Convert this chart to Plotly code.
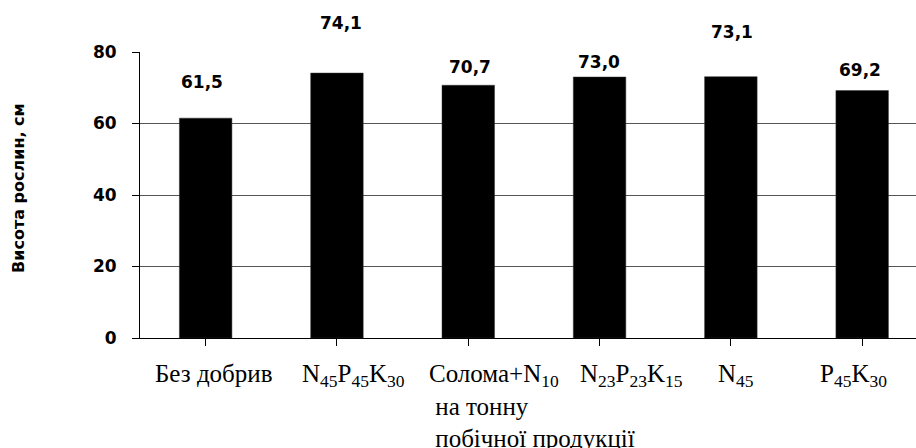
import plotly.graph_objects as go

# ---- data ----
categories = ["Без добрив", "N45P45K30", "Солома+N10 на тонну побічної продукції",
              "N23P23K15", "N45", "P45K30"]
category_labels = [
    "Без добрив",
    "N<sub>45</sub>P<sub>45</sub>K<sub>30</sub>",
    "Солома+N<sub>10</sub><br>\u00a0на тонну<br>\u00a0побічної продукції",
    "N<sub>23</sub>P<sub>23</sub>K<sub>15</sub>",
    "N<sub>45</sub>",
    "P<sub>45</sub>K<sub>30</sub>",
]
heights = [61.5, 74.1, 70.7, 73.0, 73.1, 69.2]
value_text = ["61,5", "74,1", "70,7", "73,0", "73,1", "69,2"]
y_ticks = [0, 20, 40, 60, 80]
y_title = "Висота рослин, см"

# ---- style (label offsets in px) ----
val_dx = [-4, 4.5, 1.5, -1, 1, -2]
val_dy = [36, 50, 18, 15, 45, 21]
lab_dx = [8, 17, -41, 32, 5, -9]
lab_anchor = ["center", "center", "left", "center", "center", "center"]

x_idx = list(range(len(categories)))

fig = go.Figure()
fig.add_trace(go.Bar(
    x=x_idx, y=heights, width=0.4,
    marker=dict(color="black", line=dict(color="#333", width=0.5)),
    hoverinfo="skip",
))

ann = []
for i, (v, t) in enumerate(zip(heights, value_text)):
    ann.append(dict(x=i, y=v, xref="x", yref="y", text=t, showarrow=False,
                    xanchor="center", yanchor="middle",
                    xshift=val_dx[i], yshift=val_dy[i],
                    font=dict(family="DejaVu Sans", size=17, color="black", weight="bold")))
for i, lab in enumerate(category_labels):
    ann.append(dict(x=i, y=0, xref="x", yref="paper", text=lab, showarrow=False,
                    xanchor=lab_anchor[i], yanchor="top", align="left",
                    xshift=lab_dx[i], yshift=-20,
                    font=dict(family="Liberation Serif", size=25, color="black")))
ann.append(dict(x=0, y=0.5, xref="paper", yref="paper", text=y_title, showarrow=False,
                textangle=-90, xanchor="center", yanchor="middle", xshift=-122, yshift=7,
                font=dict(family="DejaVu Sans", size=16, color="black", weight="bold")))

fig.update_layout(
    width=916, height=448,
    margin=dict(l=140, r=0, t=52, b=110),
    paper_bgcolor="white", plot_bgcolor="white",
    showlegend=False,
    annotations=ann,
    xaxis=dict(range=[-0.5, 5.41], tickmode="array", tickvals=x_idx,
               ticktext=[""] * len(x_idx), tickson="boundaries",
               ticks="outside", ticklen=7, tickcolor="black", tickwidth=1,
               showline=True, linecolor="black", linewidth=1,
               showgrid=False, zeroline=False, fixedrange=True),
    yaxis=dict(range=[0, 80], tickmode="array", tickvals=y_ticks,
               ticks="outside", ticklen=7, tickcolor="black",
               showline=True, linecolor="black", linewidth=1,
               showgrid=True, gridcolor="#555", gridwidth=1,
               zeroline=False, ticklabelstandoff=12,
               tickfont=dict(family="DejaVu Sans", size=17, color="black", weight="bold")),
)

fig.write_html("out.html")
